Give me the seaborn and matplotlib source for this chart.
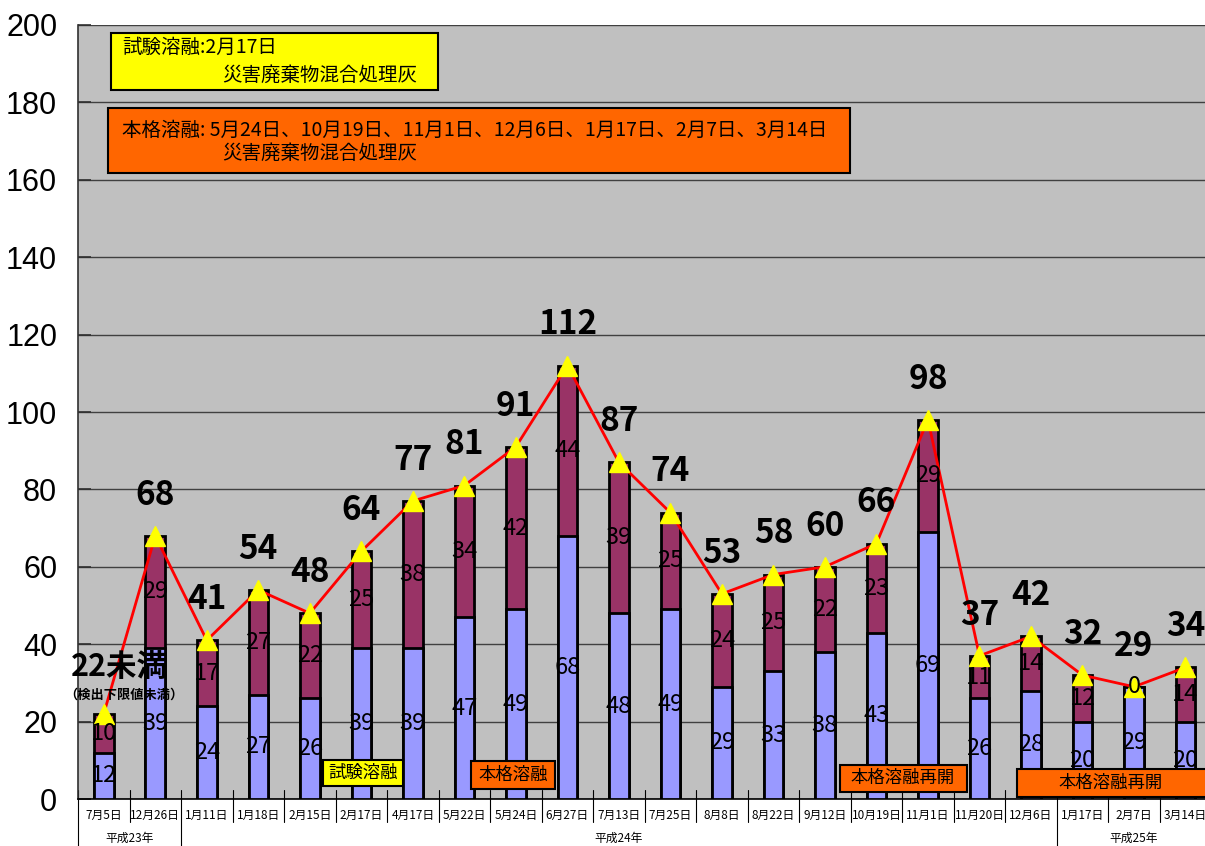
import numpy as np
import matplotlib
matplotlib.use("Agg")
import matplotlib.pyplot as plt
import matplotlib.transforms as mtransforms
from matplotlib.patches import Rectangle
import seaborn as sns

dates = ["7月5日", "12月26日", "1月11日", "1月18日", "2月15日", "2月17日", "4月17日",
         "5月22日", "5月24日", "6月27日", "7月13日", "7月25日", "8月8日", "8月22日",
         "9月12日", "10月19日", "11月1日", "11月20日", "12月6日", "1月17日", "2月7日", "3月14日"]
lower = [12, 39, 24, 27, 26, 39, 39, 47, 49, 68, 48, 49, 29, 33, 38, 43, 69, 26, 28, 20, 29, 20]
upper = [10, 29, 17, 27, 22, 25, 38, 34, 42, 44, 39, 25, 24, 25, 22, 23, 29, 11, 14, 12, 0, 14]
totals = [a + b for a, b in zip(lower, upper)]
years = ["平成23年", "平成24年", "平成25年"]
year_span = [(0, 1), (2, 18), (19, 21)]

sns.set_theme(style="white")
plt.rcParams['font.family'] = ['Noto Sans CJK JP', 'DejaVu Sans']
plt.rcParams['text.color'] = 'black'
plt.rcParams['ytick.color'] = 'black'
plt.rcParams['ytick.labelcolor'] = 'black'

W, H = 1205, 846
fig = plt.figure(figsize=(W / 100, H / 100), dpi=100)
ax = fig.add_axes([78 / W, 1 - 799 / H, 1 - 78 / W, (799 - 25) / H])
ax.set_facecolor('#C0C0C0')

# stacked bars: totals in maroon, lower part in blue drawn over it
sns.barplot(x=dates, y=totals, color='#993366', saturation=1, width=0.38,
            edgecolor='black', linewidth=2, errorbar=None, ax=ax, zorder=2)
sns.barplot(x=dates, y=lower, color='#9999FF', saturation=1, width=0.38,
            edgecolor='black', linewidth=2, errorbar=None, ax=ax, zorder=3)

x = np.arange(len(dates))
ax.plot(x, totals, color='red', lw=2, marker='^', ms=14, mfc='yellow', mec='yellow', zorder=4)

for i in x:
    ax.text(i, lower[i] / 2, str(lower[i]), ha='center', va='center', fontsize=17, color='black', zorder=5)
    ax.text(i, lower[i] + upper[i] / 2, str(upper[i]), ha='center', va='center', fontsize=17,
            color='black', zorder=5)
    if i == 0:
        ax.text(i + 0.3, totals[i] + 12, f"{totals[i]}未満", ha='center', va='center',
                fontsize=22, fontweight='bold', zorder=5)
        ax.text(i + 0.4, totals[i] + 5, "（検出下限値未満）", ha='center', va='center',
                fontsize=9.5, fontweight='bold', zorder=5)
    else:
        ax.text(i, totals[i] + 10.5, str(totals[i]), ha='center', va='center',
                fontsize=24, fontweight='bold', zorder=5)

ax.set_xlim(-0.5, (W - 104) / 51.5)
ax.set_ylim(0, 200)
ax.set_yticks(range(0, 201, 20))
ax.set_yticklabels([str(v) for v in range(0, 201, 20)], family='Liberation Sans', fontsize=22)
ax.tick_params(axis='y', length=9, width=1.2, color='#303030', pad=15, direction='in', left=True)
ax.set_xticks([])
ax.set_xlabel("")
ax.set_ylabel("")
ax.grid(axis='y', color='#404040', lw=1)
ax.set_axisbelow(True)
for s in ['top', 'right']:
    ax.spines[s].set_visible(False)
ax.spines['left'].set_color('#303030')
ax.spines['bottom'].set_color('black')
ax.spines['left'].set_linewidth(1.2)
ax.spines['bottom'].set_linewidth(1.2)

# date table below the axis
tr = mtransforms.blended_transform_factory(ax.transData, ax.transAxes)
bottom_fig = -(1 - 799 / H) / ((799 - 25) / H)
for i in range(len(dates)):
    ax.text(i, -0.021, dates[i], transform=tr, ha='center', va='center', fontsize=8.5, clip_on=False)
for b in np.arange(-0.5, len(dates) - 0.5):
    long = b in (-0.5, 1.5, 18.5)
    ax.plot([b, b], [0.012, bottom_fig if long else -0.03], transform=tr, color='black',
            lw=0.8, clip_on=False, zorder=1)
for name, (a, b) in zip(years, year_span):
    ax.text((a + b) / 2, -0.051, name, transform=tr, ha='center', va='center', fontsize=8.5, clip_on=False)


def box(x0, y0, x1, y1, color):
    fig.patches.append(Rectangle((x0 / W, 1 - y1 / H), (x1 - x0) / W, (y1 - y0) / H,
                                 facecolor=color, edgecolor='black', lw=1.5,
                                 transform=fig.transFigure, zorder=10))


def label(px, py, s, size=14, ha='left'):
    fig.text(px / W, 1 - py / H, s, ha=ha, va='center', fontsize=size, zorder=11)


box(111, 33, 438, 90, 'yellow')
label(122, 47, "試験溶融:2月17日")
label(222, 75, "災害廃棄物混合処理灰")

box(108, 108, 850, 173, '#FF6600')
label(122, 130, "本格溶融: 5月24日、10月19日、11月1日、12月6日、1月17日、2月7日、3月14日")
label(222, 153, "災害廃棄物混合処理灰")

box(323, 760, 403, 786, 'yellow')
label(363, 773, "試験溶融", 12.5, 'center')
box(471, 761, 555, 789, '#FF6600')
label(513, 775, "本格溶融", 12.5, 'center')
box(840, 765, 967, 792, '#FF6600')
label(903, 778, "本格溶融再開", 12.5, 'center')
box(1017, 769, 1215, 797, '#FF6600')
label(1111, 783, "本格溶融再開", 12.5, 'center')

fig.savefig("out.png", dpi=100)
